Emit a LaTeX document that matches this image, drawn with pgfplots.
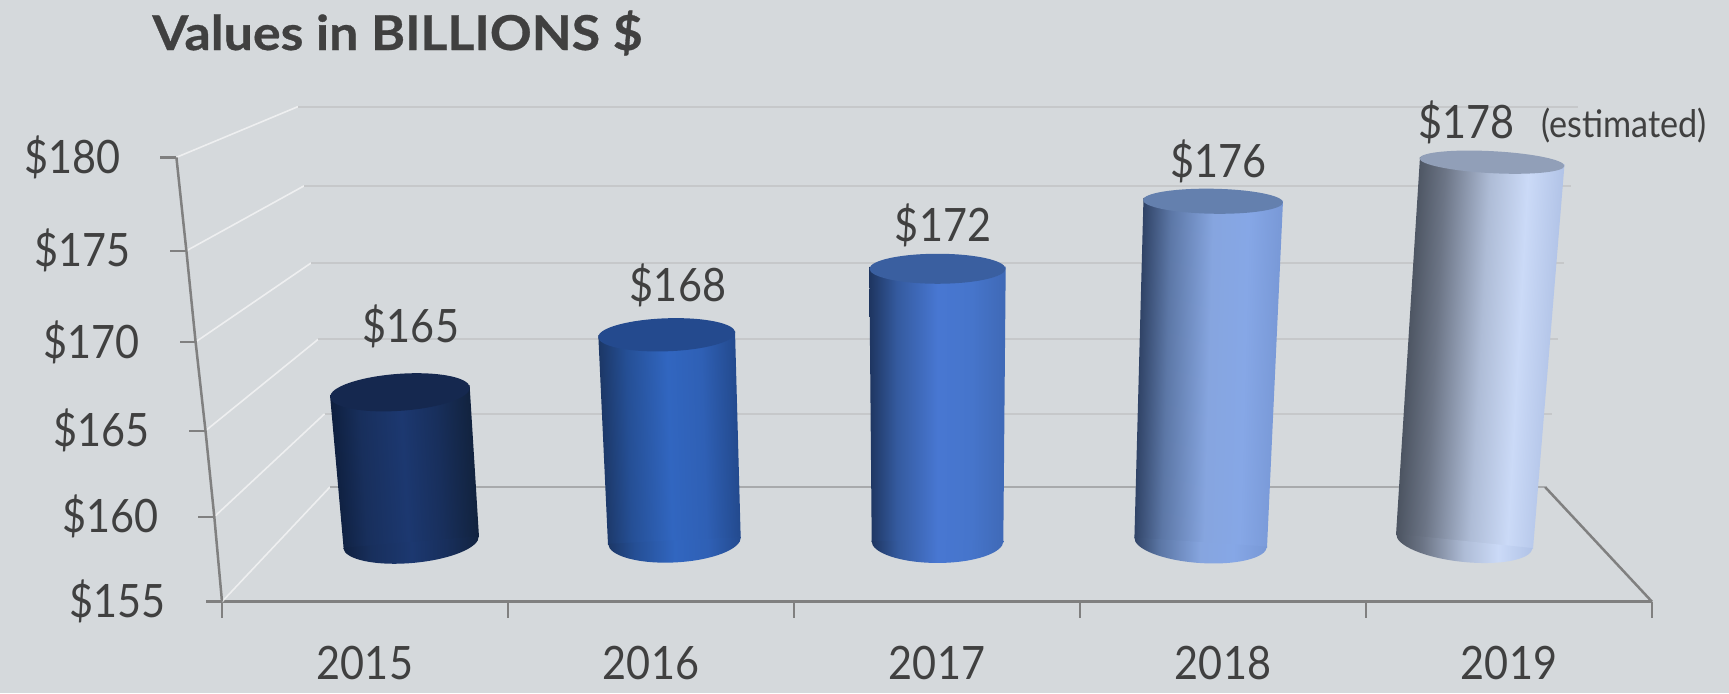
\documentclass[border=0pt]{standalone}
\usepackage{fontspec}
\setmainfont[FakeStretch=0.9]{Lato}
\newfontfamily\titlefont[FakeStretch=1.08,BoldFeatures={FakeBold=0.6}]{Lato}
\usepackage{pgfplots}
\usepackage{pgfplotstable}
\pgfplotsset{compat=1.18}

\newlength\px
\setlength\px{0.5pt}

\definecolor{bg}{HTML}{D5D9DC}
\definecolor{txt}{HTML}{404040}
\definecolor{axisgray}{HTML}{808080}
\definecolor{wallline}{HTML}{C6C8CA}
\definecolor{sideline}{HTML}{EEEFF0}

% stops at 0, 20, 50, 75, 100 % across the cylinder; #2 is half the range the body takes
\newcommand\stopset[2]{%
  \pgfmathsetmacro\pa{50-#2}\pgfmathsetmacro\pb{50-0.6*#2}%
  \pgfmathsetmacro\pd{50+0.5*#2}\pgfmathsetmacro\pe{50+#2}%
  \edef\tmpshade{\noexpand\pgfdeclarehorizontalshading{#1}{100bp}{%
    color(0bp)=(cc#1a);color(\pa bp)=(cc#1a);color(\pb bp)=(cc#1b);color(50bp)=(cc#1c);%
    color(\pd bp)=(cc#1d);color(\pe bp)=(cc#1e);color(100bp)=(cc#1e)}}\tmpshade}
\newcommand\cylshade[7]{%
  \definecolor{cc#1a}{HTML}{#3}\definecolor{cc#1b}{HTML}{#4}\definecolor{cc#1c}{HTML}{#5}%
  \definecolor{cc#1d}{HTML}{#6}\definecolor{cc#1e}{HTML}{#7}%
  \stopset{#1}{#2}%
  \definecolor{cc#1ba}{HTML}{#3}\definecolor{cc#1bb}{HTML}{#4}\definecolor{cc#1bc}{HTML}{#5}%
  \definecolor{cc#1bd}{HTML}{#6}\definecolor{cc#1be}{HTML}{#7}%
  \stopset{#1b}{25}}
\cylshade{cylA}{23}{0F2040}{182F5C}{1C3870}{182F5C}{12233F}
\cylshade{cylB}{23.5}{1C3766}{254F95}{3166C0}{2F60B5}{234A8E}
\cylshade{cylC}{25}{1E3560}{345A9E}{4877D2}{4675CB}{3F69B6}
\cylshade{cylD}{22.9}{2F4265}{5C77A6}{86A5DF}{86A7E6}{7898D6}
\cylshade{cylE}{20.9}{4A525F}{6C7586}{AEBCD6}{CBDAF7}{B0C2E6}

% name, half axes, tilt, shading: only the lower half, the body covers the rest
\newcommand\baseellipse[5]{%
  \pgfdeclareplotmark{#1}{%
    \pgfpathmoveto{\pgfpointadd{\pgfpointpolar{#4+180}{#2\px}}{\pgfpoint{0pt}{1\px}}}%
    \pgfpatharcaxes{180}{360}{\pgfpointpolar{#4}{#2\px}}{\pgfpointpolar{#4+90}{#3\px}}%
    \pgfpathclose
    \pgfshadepath{#5}{0}\pgfusepath{discard}}}
% name, half axes, tilt, vertical offset, fill colour
\newcommand\topellipse[6]{%
  \pgfdeclareplotmark{#1}{%
    \pgfpathellipse{\pgfpoint{0pt}{#5\px}}{\pgfpointpolar{#4}{#2\px}}{\pgfpointpolar{#4+90}{#3\px}}%
    \definecolor{tmpfill}{HTML}{#6}\pgfsetfillcolor{tmpfill}\pgfusepathqfill}}
\baseellipse{bA}{68}{21}{5}{cylAb}
\baseellipse{bB}{66.5}{22}{3}{cylBb}
\baseellipse{bC}{66}{22}{0}{cylCb}
\baseellipse{bD}{66.5}{21}{-4}{cylDb}
\baseellipse{bE}{68.5}{21}{-6}{cylEb}
\topellipse{tA}{70}{18.5}{4}{0}{15284F}
\topellipse{tB}{68.5}{16.5}{2}{4.3}{244A8E}
\topellipse{tC}{68}{15}{0}{-0.6}{3A5FA0}
\topellipse{tD}{70}{12.5}{-1}{-4}{6480AE}
\topellipse{tE}{72.5}{11}{-3}{-0.4}{919FB8}

\pgfdeclareplotmark{lefttick}{%
  \pgfpathmoveto{\pgfpointorigin}\pgfpathlineto{\pgfpoint{-16\px}{0pt}}\pgfusepathqstroke}

% left axis of the box: x, drawn height, value
\pgfplotstableread{
x       yp      v
-0.1594 180.06  180
-0.1245 174.79  175
-0.0923 169.65  170
-0.0577 164.64  165
-0.0269 159.79  160
0       155     155
}\lefttable

% value labels: x, value, lift in pixels
\pgfplotstableread{
x      v    dy
0.6608 165  65.5
1.5944 168  54
2.521  172  43
3.484  176  35.5
4.352  178  39
}\valuetable

\begin{document}
\begin{tikzpicture}[x=1pt,y=1pt]
\path[fill=bg,use as bounding box] (0,0) rectangle (1729\px,693\px);
\node[anchor=base west,text=txt,font=\fontsize{24}{24}\selectfont\titlefont\bfseries,inner sep=0pt]
  at (152\px,643\px) {Values in BILLIONS \$};

\begin{axis}[
  at={(222\px,91.3\px)}, anchor=south west,
  scale only axis, width=1430\px, height=443.3\px,
  xmin=0, xmax=5, ymin=155, ymax=180,
  clip=false,
  axis x line=bottom, axis y line=none,
  x axis line style={-,draw=axisgray,line width=2.5\px},
  xtick={0,1,2,3,4,5},
  xticklabels={2015,2016,2017,2018,2019},
  x tick label as interval=true,
  tick align=outside,
  major tick length=16\px,
  x tick style={draw=axisgray,line width=2.5\px},
  xticklabel style={text=txt,font=\fontsize{23}{23}\selectfont,yshift=-21\px},
  /pgf/number format/assume math mode=true,
  every node near coord/.append style={text=txt,font=\fontsize{23}{23}\selectfont,inner sep=0pt},
]
% walls: side lines run from the left axis to the back, back lines run across
\addplot[sideline,line width=1.6\px,no marks,unbounded coords=jump] coordinates {
  (-0.1594,180.06) (0.2657,182.92) (nan,nan)
  (-0.1245,174.79) (0.2867,178.45) (nan,nan)
  (-0.0923,169.65) (0.3112,174.10) (nan,nan)
  (-0.0577,164.64) (0.3357,169.79) (nan,nan)
  (-0.0269,159.79) (0.3584,165.59) (nan,nan)
  (0,155)          (0.3776,161.47)
};
\addplot[wallline,line width=2\px,no marks,unbounded coords=jump] coordinates {
  (0.2657,182.92) (4.741,182.92) (nan,nan)
  (0.2867,178.45) (4.717,178.45) (nan,nan)
  (0.3112,174.10) (4.694,174.10) (nan,nan)
  (0.3357,169.79) (4.671,169.79) (nan,nan)
  (0.3584,165.59) (4.650,165.59)
};
\addplot[wallline!85!black,line width=2\px,no marks] coordinates {(0.3776,161.47) (4.626,161.47)};
\addplot[axisgray,line width=2.5\px,no marks] coordinates {(4.626,161.47) (5,155)};
% left axis
\addplot[axisgray,line width=2.5\px,mark=lefttick,
  point meta=explicit,
  nodes near coords={\$\pgfmathprintnumber{\pgfplotspointmeta}},
  nodes near coords align={anchor=east},
  every node near coord/.append style={xshift=-55\px},
] table[x=x,y=yp,meta=v] {\lefttable};
\end{axis}

\begin{axis}[
  at={(222\px,91.3\px)}, anchor=south west,
  scale only axis, width=1430\px, height=443.3\px,
  xmin=0, xmax=5, ymin=153.19, ymax=178.19,
  clip=false, hide axis,
  /pgf/number format/assume math mode=true,
]
% 2015
\addplot[only marks,mark=bA] coordinates {(0.6608,156.5)};
\addplot[draw=none,shade,shading=cylA,shading angle=3.2,no marks] coordinates {(0.3776,164.85) (0.8657,165.41) (0.8986,156.84) (0.4255,156.16)} -- cycle;
\addplot[only marks,mark=tA] coordinates {(0.6224,165)};
% 2016
\addplot[only marks,mark=bB] coordinates {(1.5822,156.59)};
\addplot[draw=none,shade,shading=cylB,shading angle=1.7,no marks] coordinates {(1.3157,168.23) (1.7937,168.47) (1.8136,156.78) (1.3497,156.39)} -- cycle;
\addplot[only marks,mark=tB] coordinates {(1.5549,168)};
% 2017
\addplot[only marks,mark=bC] coordinates {(2.5017,156.56)};
\addplot[draw=none,shade,shading=cylC,no marks] coordinates {(2.2633,172.07) (2.7402,172.08) (2.7318,156.52) (2.2717,156.57)} -- cycle;
\addplot[only marks,mark=tC] coordinates {(2.5017,172)};
% 2018
\addplot[only marks,mark=bD] coordinates {(3.4220,156.5)};
\addplot[draw=none,shade,shading=cylD,shading angle=-1.6,no marks] coordinates {(3.2220,175.96) (3.7098,175.81) (3.6538,156.22) (3.1902,156.78)} -- cycle;
\addplot[only marks,mark=tD] coordinates {(3.4650,176)};
% 2019
\addplot[only marks,mark=bE] coordinates {(4.3444,156.56)};
\addplot[draw=none,shade,shading=cylE,shading angle=-3.2,no marks] coordinates {(4.1888,178.27) (4.6941,177.87) (4.5839,156.16) (4.1049,156.95)} -- cycle;
\addplot[only marks,mark=tE] coordinates {(4.4406,178)};
% value labels
\addplot[only marks,mark=none,
  point meta=y,
  visualization depends on={\thisrow{dy} \as \dy},
  nodes near coords={\$\pgfmathprintnumber{\pgfplotspointmeta}},
  nodes near coords align={anchor=center},
  every node near coord/.append style={text=txt,font=\fontsize{23}{23}\selectfont,inner sep=0pt,yshift=\dy*\px},
] table[x=x,y=v] {\valuetable};
\end{axis}

\node[anchor=base west,text=txt,font=\fontsize{19}{19}\selectfont,inner sep=0pt]
  at (1541\px,556\px) {(estimated)};
\end{tikzpicture}
\end{document}
